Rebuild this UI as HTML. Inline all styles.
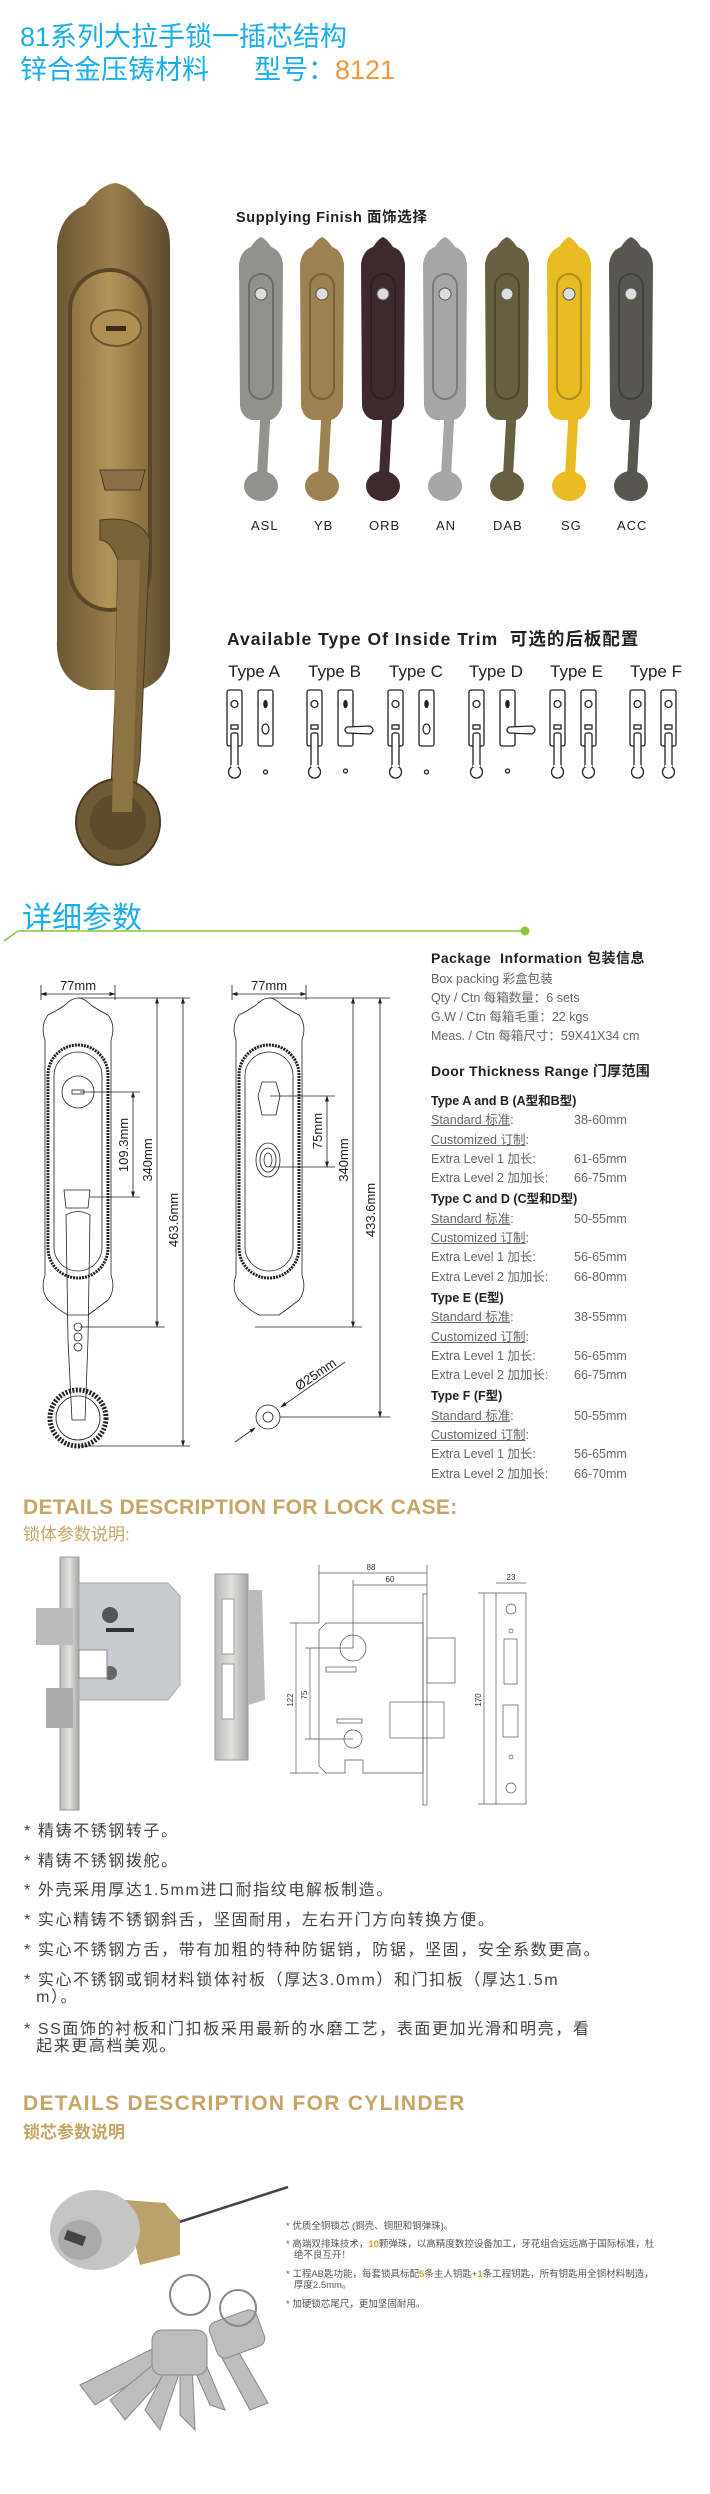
<!DOCTYPE html>
<html><head><meta charset="utf-8">
<style>
*{margin:0;padding:0;box-sizing:border-box}
body{width:710px;height:2494px;background:#fff;position:relative;overflow:hidden;font-family:"Liberation Sans","Noto Sans CJK SC",sans-serif}
.a{position:absolute;white-space:nowrap}
.t1{color:#1aaee8;font-size:27px;line-height:30px;left:20px}
.pk{left:431px;font-size:12.5px;color:#666;line-height:16px}
.bd{font-weight:bold;color:#222}
.u{text-decoration:underline}
.gold{color:#c7a565;font-weight:bold;font-size:21px;left:23px;letter-spacing:0.3px}
.goldc{color:#c7a565;font-size:17px;left:23px}
.bl{left:24px;font-size:16px;color:#444;letter-spacing:1.6px;line-height:17px}
.cy{left:286px;font-size:9.5px;color:#555;line-height:11px}
</style></head><body>

<div class="a t1" style="top:22px">81系列大拉手锁一插芯结构</div>
<div class="a t1" style="top:55px">锌合金压铸材料<span style="margin-left:45px">型号：</span><span style="color:#f7963b">8121</span></div>

<svg class="a" style="left:0;top:170px" width="230" height="710" viewBox="0 170 230 710">
<defs>
<linearGradient id="br" x1="0" x2="1"><stop offset="0" stop-color="#6b5634"/><stop offset=".5" stop-color="#9a7f4c"/><stop offset="1" stop-color="#5d4a2e"/></linearGradient>
<linearGradient id="br2" x1="0" x2="1"><stop offset="0" stop-color="#8d7242"/><stop offset=".5" stop-color="#b3945a"/><stop offset="1" stop-color="#866a3c"/></linearGradient>
</defs>
<path d="M57 245 Q60 215 85 205 Q100 185 115 183 Q130 185 145 205 Q170 215 170 245 L170 640 Q172 680 140 690 L90 690 Q55 680 57 640 Z" fill="url(#br)"/>
<rect x="70" y="270" width="80" height="340" rx="40" fill="url(#br2)" stroke="#5a4628" stroke-width="4"/>
<ellipse cx="116" cy="328" rx="25" ry="18" fill="#b08f55" stroke="#6a5330" stroke-width="2"/>
<rect x="106" y="326" width="20" height="5" fill="#3a2c18"/>
<path d="M100 470 L145 470 L140 490 L105 490Z" fill="#8a7048" stroke="#4a3a22"/>
<path d="M100 520 Q140 515 150 540 L140 760 L132 812 L110 812 L115 700 L118 560 Q110 540 100 540Z" fill="#7a6238" stroke="#4a3a22"/>
<ellipse cx="118" cy="822" rx="42" ry="43" fill="#6f5a36" stroke="#4a3a22" stroke-width="2"/>
<ellipse cx="118" cy="822" rx="28" ry="28" fill="#5e4b2d"/>
<path d="M118 560 L140 560 L132 812 L112 812Z" fill="#8e7344"/>
</svg>

<div class="a bd" style="left:236px;top:206px;font-size:14.5px;letter-spacing:0.6px">Supplying Finish 面饰选择</div>

<svg class="a" style="left:230px;top:236px" width="440" height="280">
<defs>
<g id="h">
<path d="M9 28 Q11 14 21 11 Q26 3 31 1 Q36 3 41 11 Q51 14 53 28 L52 170 Q48 182 40 184 L22 184 Q12 182 10 170 Z"/>
<path d="M30 130 Q42 132 42 150 L37 240 L27 240 L32 150 Z"/>
<ellipse cx="31" cy="250" rx="17" ry="15"/>
</g>
</defs>
<g fill="#92928c"><use href="#h" x="0"/></g>
<g fill="#9c8250"><use href="#h" x="61"/></g>
<g fill="#3e2a2e"><use href="#h" x="122"/></g>
<g fill="#a6a6a6"><use href="#h" x="184"/></g>
<g fill="#666040"><use href="#h" x="246"/></g>
<g fill="#eabc24"><use href="#h" x="308"/></g>
<g fill="#575750"><use href="#h" x="370"/></g>
<g fill="none" stroke="rgba(0,0,0,.25)" stroke-width="2">
<rect x="19" y="38" width="24" height="125" rx="12"/><rect x="80" y="38" width="24" height="125" rx="12"/><rect x="141" y="38" width="24" height="125" rx="12"/><rect x="203" y="38" width="24" height="125" rx="12"/><rect x="265" y="38" width="24" height="125" rx="12"/><rect x="327" y="38" width="24" height="125" rx="12"/><rect x="389" y="38" width="24" height="125" rx="12"/>
</g>
<g fill="#ddd" stroke="#555"><circle cx="31" cy="58" r="6"/><circle cx="92" cy="58" r="6"/><circle cx="153" cy="58" r="6"/><circle cx="215" cy="58" r="6"/><circle cx="277" cy="58" r="6"/><circle cx="339" cy="58" r="6"/><circle cx="401" cy="58" r="6"/></g>
</svg>
<div class="a" style="top:518px;left:0;width:710px;font-size:13px;color:#222;letter-spacing:1px">
<span class="a" style="left:251px">ASL</span><span class="a" style="left:314px">YB</span><span class="a" style="left:369px">ORB</span><span class="a" style="left:436px">AN</span><span class="a" style="left:493px">DAB</span><span class="a" style="left:561px">SG</span><span class="a" style="left:617px">ACC</span></div>

<div class="a bd" style="left:227px;top:626px;font-size:17.5px;letter-spacing:1px">Available Type Of Inside Trim&nbsp; 可选的后板配置</div>
<div class="a" style="top:662px;left:0;font-size:17px;color:#222">
<span class="a" style="left:228px">Type A</span><span class="a" style="left:308px">Type B</span><span class="a" style="left:389px">Type C</span><span class="a" style="left:469px">Type D</span><span class="a" style="left:550px">Type E</span><span class="a" style="left:630px">Type F</span></div>

<svg class="a" style="left:0;top:0" width="710" height="800">
<defs>
<g id="H" fill="#fff" stroke="#222" stroke-width="1.3">
<rect x="0" y="690" width="15" height="56" rx="2"/>
<circle cx="7.5" cy="704" r="3.5"/><rect x="4" y="725" width="7" height="4"/>
<rect x="4" y="733" width="7" height="34" rx="2"/>
<circle cx="7.5" cy="772" r="6"/>
<line x1="4" y1="766" x2="11" y2="766" stroke="#fff" stroke-width="2"/>
</g>
<g id="S" fill="#fff" stroke="#222" stroke-width="1.3">
<rect x="0" y="690" width="15" height="56" rx="2"/>
<ellipse cx="7.5" cy="704" rx="1.6" ry="3.5" fill="#222"/>
<circle cx="7.5" cy="772" r="2"/>
</g>
<g id="L" fill="#fff" stroke="#222" stroke-width="1.3">
<rect x="0" y="690" width="15" height="56" rx="2"/>
<ellipse cx="7.5" cy="704" rx="1.6" ry="3.5" fill="#222"/>
<path d="M9 727 L32 726 Q38 730 32 734 L9 733 Q5 730 9 727Z"/>
<circle cx="7.5" cy="771" r="2"/>
</g>
</defs>
<use href="#H" x="227"/><use href="#S" x="258"/><ellipse cx="265.5" cy="729" rx="3.5" ry="5" fill="none" stroke="#222" stroke-width="1.2"/>
<use href="#H" x="307"/><use href="#L" x="338"/>
<use href="#H" x="388"/><use href="#S" x="419"/><ellipse cx="426.5" cy="729" rx="3.5" ry="5" fill="none" stroke="#222" stroke-width="1.2"/>
<use href="#H" x="469"/><use href="#L" x="500"/>
<use href="#H" x="550"/><use href="#H" x="581"/>
<use href="#H" x="630"/><use href="#H" x="661"/>
</svg>

<div class="a" style="left:22px;top:893px;font-size:30px;color:#1aaee8">详细参数</div>
<svg class="a" style="left:0;top:925px" width="540" height="20"><path d="M4 16 L18 6 L525 6" stroke="#8cc63f" stroke-width="1.6" fill="none"/><circle cx="525" cy="6" r="4.5" fill="#8cc63f"/></svg>

<div class="a bd" style="left:431px;top:948px;font-size:14px;letter-spacing:0.5px">Package&nbsp; Information 包装信息</div>
<div class="a pk" style="top:971px">Box packing 彩盒包装</div>
<div class="a pk" style="top:990px">Qty / Ctn 每箱数量：6 sets</div>
<div class="a pk" style="top:1009px">G.W / Ctn 每箱毛重：22 kgs</div>
<div class="a pk" style="top:1028px">Meas. / Ctn 每箱尺寸：59X41X34 cm</div>
<div class="a bd" style="left:431px;top:1061px;font-size:14px;letter-spacing:0.3px">Door Thickness Range 门厚范围</div>

<div class="a" style="left:431px;top:1092px;font-size:12.5px;color:#666;line-height:19.3px">
<div class="bd" style="font-size:12.5px">Type A and B (A型和B型)</div>
<div><span class="u">Standard 标准</span>:</div><div><span class="u">Customized 订制</span>:</div><div>Extra Level 1 加长:</div><div>Extra Level 2 加加长:</div>
<div class="bd" style="margin-top:2px">Type C and D (C型和D型)</div>
<div><span class="u">Standard 标准</span>:</div><div><span class="u">Customized 订制</span>:</div><div>Extra Level 1 加长:</div><div>Extra Level 2 加加长:</div>
<div class="bd" style="margin-top:2px">Type E (E型)</div>
<div><span class="u">Standard 标准</span>:</div><div><span class="u">Customized 订制</span>:</div><div>Extra Level 1 加长:</div><div>Extra Level 2 加加长:</div>
<div class="bd" style="margin-top:2px">Type F (F型)</div>
<div><span class="u">Standard 标准</span>:</div><div><span class="u">Customized 订制</span>:</div><div>Extra Level 1 加长:</div><div>Extra Level 2 加加长:</div>
</div>
<div class="a" style="left:574px;top:1092px;font-size:12.5px;color:#666;line-height:19.3px">
<div>&nbsp;</div><div>38-60mm</div><div>&nbsp;</div><div>61-65mm</div><div>66-75mm</div>
<div style="margin-top:2px">&nbsp;</div><div>50-55mm</div><div>&nbsp;</div><div>56-65mm</div><div>66-80mm</div>
<div style="margin-top:2px">&nbsp;</div><div>38-55mm</div><div>&nbsp;</div><div>56-65mm</div><div>66-75mm</div>
<div style="margin-top:2px">&nbsp;</div><div>50-55mm</div><div>&nbsp;</div><div>56-65mm</div><div>66-70mm</div>
</div>

<svg class="a" style="left:0;top:970px" width="420" height="490" viewBox="0 970 420 490" font-family="Liberation Sans" font-size="13" fill="#222">
<defs><marker id="ar" markerWidth="8" markerHeight="8" refX="7" refY="4" orient="auto-start-reverse"><path d="M0 1.5 L8 4 L0 6.5Z" fill="#222"/></marker></defs>
<g stroke="#222" stroke-width="0.8" fill="none">
<path d="M45 1040 Q40 1025 48 1015 Q58 1010 65 1005 Q72 998 78 998 Q84 998 91 1005 Q98 1010 108 1015 Q116 1025 111 1040 L111 1275 Q116 1290 108 1300 Q95 1310 88 1315 L68 1315 Q58 1310 48 1300 Q40 1290 45 1275Z"/>
<rect x="48" y="1045" width="60" height="233" rx="30" stroke-width="3" stroke-dasharray="2 1"/>
<rect x="54" y="1052" width="48" height="219" rx="24"/>
<circle cx="78" cy="1092" r="16"/><rect x="72" y="1090" width="12" height="4"/>
<path d="M64 1190 L90 1190 L88 1208 L66 1208Z"/>
<path d="M66 1215 Q78 1208 90 1215 L88 1340 L85 1420 L72 1420 L68 1340Z"/>
<circle cx="78" cy="1418" r="28" stroke-width="5" stroke-dasharray="2 1.5"/>
<circle cx="78" cy="1418" r="22"/>
<circle cx="78" cy="1327" r="4"/><circle cx="78" cy="1337" r="4"/><circle cx="78" cy="1347" r="4"/>
<line x1="41" y1="985" x2="41" y2="1000"/><line x1="115" y1="985" x2="115" y2="1000"/>
<line x1="41" y1="994" x2="115" y2="994" marker-start="url(#ar)" marker-end="url(#ar)"/>
<line x1="78" y1="998" x2="190" y2="998"/><line x1="80" y1="1092" x2="140" y2="1092"/><line x1="90" y1="1197" x2="140" y2="1197"/>
<line x1="80" y1="1327" x2="165" y2="1327"/><line x1="80" y1="1446" x2="190" y2="1446"/>
<line x1="133" y1="1092" x2="133" y2="1197" marker-start="url(#ar)" marker-end="url(#ar)"/>
<line x1="157" y1="998" x2="157" y2="1327" marker-start="url(#ar)" marker-end="url(#ar)"/>
<line x1="183" y1="998" x2="183" y2="1446" marker-start="url(#ar)" marker-end="url(#ar)"/>
<path d="M236 1040 Q231 1025 239 1015 Q249 1010 256 1005 Q263 998 269 998 Q275 998 282 1005 Q289 1010 299 1015 Q307 1025 302 1040 L302 1275 Q307 1290 299 1300 Q286 1310 279 1315 L259 1315 Q249 1310 239 1300 Q231 1290 236 1275Z"/>
<rect x="239" y="1045" width="60" height="233" rx="30" stroke-width="3" stroke-dasharray="2 1"/>
<rect x="245" y="1052" width="48" height="219" rx="24"/>
<path d="M262 1082 L276 1082 L280 1096 L276 1115 L262 1115 L258 1096Z"/>
<ellipse cx="268" cy="1160" rx="12" ry="17"/><ellipse cx="268" cy="1160" rx="8" ry="12"/><ellipse cx="268" cy="1160" rx="4" ry="7"/>
<line x1="232" y1="985" x2="232" y2="1000"/><line x1="306" y1="985" x2="306" y2="1000"/>
<line x1="232" y1="994" x2="306" y2="994" marker-start="url(#ar)" marker-end="url(#ar)"/>
<line x1="269" y1="998" x2="390" y2="998"/><line x1="270" y1="1096" x2="335" y2="1096"/><line x1="270" y1="1167" x2="335" y2="1167"/>
<line x1="255" y1="1327" x2="362" y2="1327"/><line x1="280" y1="1417" x2="390" y2="1417"/>
<line x1="327" y1="1096" x2="327" y2="1167" marker-start="url(#ar)" marker-end="url(#ar)"/>
<line x1="353" y1="998" x2="353" y2="1327" marker-start="url(#ar)" marker-end="url(#ar)"/>
<line x1="380" y1="998" x2="380" y2="1417" marker-start="url(#ar)" marker-end="url(#ar)"/>
<circle cx="268" cy="1417" r="12"/><circle cx="268" cy="1417" r="5"/>
<line x1="235" y1="1442" x2="255" y2="1428" marker-end="url(#ar)"/>
<line x1="345" y1="1362" x2="281" y2="1407" marker-end="url(#ar)"/>
</g>
<text x="78" y="990" text-anchor="middle">77mm</text>
<text x="269" y="990" text-anchor="middle">77mm</text>
<text transform="translate(128 1145) rotate(-90)" text-anchor="middle">109.3mm</text>
<text transform="translate(152 1160) rotate(-90)" text-anchor="middle">340mm</text>
<text transform="translate(178 1220) rotate(-90)" text-anchor="middle">463.6mm</text>
<text transform="translate(322 1131) rotate(-90)" text-anchor="middle">75mm</text>
<text transform="translate(348 1160) rotate(-90)" text-anchor="middle">340mm</text>
<text transform="translate(375 1210) rotate(-90)" text-anchor="middle">433.6mm</text>
<text transform="translate(318 1378) rotate(-34)" text-anchor="middle">Ø25mm</text>
</svg>

<div class="a gold" style="top:1496px">DETAILS DESCRIPTION FOR LOCK CASE:</div>
<div class="a goldc" style="top:1520px">锁体参数说明:</div>

<svg class="a" style="left:0;top:1550px" width="540" height="270" viewBox="0 1550 540 270">
<defs><linearGradient id="ss" x1="0" x2="1"><stop offset="0" stop-color="#b8b8b6"/><stop offset=".5" stop-color="#e2e2e0"/><stop offset="1" stop-color="#a5a5a3"/></linearGradient></defs>
<rect x="60" y="1557" width="19" height="253" fill="url(#ss)" stroke="#999"/>
<path d="M79 1583 L168 1583 L180 1596 L180 1685 L168 1700 L79 1700Z" fill="#c7ccd3" stroke="#aaa"/>
<rect x="36" y="1608" width="37" height="37" fill="#bbb"/>
<rect x="46" y="1688" width="27" height="40" fill="#aaa"/>
<circle cx="110" cy="1615" r="8" fill="#555"/><rect x="106" y="1628" width="28" height="4" fill="#333"/>
<circle cx="110" cy="1673" r="7" fill="#666"/>
<rect x="79" y="1650" width="28" height="28" fill="#fff" stroke="#888"/>
<rect x="215" y="1574" width="33" height="186" fill="url(#ss)" stroke="#999"/>
<path d="M248 1590 L262 1590 L265 1700 L248 1705Z" fill="#bbb"/>
<rect x="222" y="1599" width="12" height="55" fill="#fff" stroke="#999"/><rect x="222" y="1664" width="12" height="55" fill="#fff" stroke="#999"/>
<g stroke="#555" stroke-width="0.7" fill="none">
<path d="M319 1630 L326 1623 L423 1623 L423 1773 L363 1773 L363 1760 L345 1760 L345 1773 L326 1773 L319 1766Z"/>
<rect x="423" y="1594" width="4" height="211"/>
<rect x="427" y="1638" width="28" height="45"/><rect x="390" y="1702" width="54" height="36"/>
<circle cx="353" cy="1648" r="13"/><circle cx="353" cy="1739" r="9"/>
<rect x="326" y="1667" width="30" height="5"/><rect x="337" y="1719" width="25" height="4"/>
<line x1="319" y1="1565" x2="319" y2="1623"/><line x1="427" y1="1565" x2="427" y2="1594"/>
<line x1="319" y1="1573" x2="427" y2="1573"/><line x1="353" y1="1585" x2="427" y2="1585"/><line x1="353" y1="1580" x2="353" y2="1648"/>
<line x1="290" y1="1623" x2="319" y2="1623"/><line x1="290" y1="1773" x2="319" y2="1773"/>
<line x1="296" y1="1623" x2="296" y2="1773"/><line x1="305" y1="1648" x2="353" y2="1648"/><line x1="305" y1="1739" x2="353" y2="1739"/><line x1="310" y1="1648" x2="310" y2="1739"/>
<rect x="496" y="1593" width="30" height="211"/>
<rect x="504" y="1639" width="13" height="45"/><rect x="503" y="1705" width="15" height="32"/>
<circle cx="511" cy="1609" r="5"/><circle cx="511" cy="1788" r="5"/><circle cx="511" cy="1631" r="2"/><circle cx="511" cy="1757" r="2"/>
<line x1="478" y1="1593" x2="496" y2="1593"/><line x1="478" y1="1804" x2="496" y2="1804"/><line x1="484" y1="1593" x2="484" y2="1804"/>
<line x1="496" y1="1583" x2="526" y2="1583"/>
</g>
<g font-family="Liberation Sans" font-size="8" fill="#333">
<text x="371" y="1570" text-anchor="middle">88</text><text x="390" y="1582" text-anchor="middle">60</text>
<text x="511" y="1580" text-anchor="middle">23</text>
<text transform="translate(293 1700) rotate(-90)" text-anchor="middle">122</text>
<text transform="translate(307 1695) rotate(-90)" text-anchor="middle">75</text>
<text transform="translate(481 1700) rotate(-90)" text-anchor="middle">170</text>
</g>
</svg>

<div class="a bl" style="top:1823px">* 精铸不锈钢转子。</div>
<div class="a bl" style="top:1853px">* 精铸不锈钢拨舵。</div>
<div class="a bl" style="top:1882px">* 外壳采用厚达1.5mm进口耐指纹电解板制造。</div>
<div class="a bl" style="top:1912px">* 实心精铸不锈钢斜舌，坚固耐用，左右开门方向转换方便。</div>
<div class="a bl" style="top:1942px">* 实心不锈钢方舌，带有加粗的特种防锯销，防锯，坚固，安全系数更高。</div>
<div class="a bl" style="top:1972px">* 实心不锈钢或铜材料锁体衬板（厚达3.0mm）和门扣板（厚达1.5m<br>&nbsp;&nbsp;m）。</div>
<div class="a bl" style="top:2021px">* SS面饰的衬板和门扣板采用最新的水磨工艺，表面更加光滑和明亮，看<br>&nbsp;&nbsp;起来更高档美观。</div>

<div class="a gold" style="top:2092px;letter-spacing:1.3px">DETAILS DESCRIPTION FOR CYLINDER</div>
<div class="a goldc" style="top:2118px;font-weight:bold">锁芯参数说明</div>

<svg class="a" style="left:40px;top:2165px" width="260" height="280">
<line x1="130" y1="60" x2="248" y2="22" stroke="#444" stroke-width="2.5"/>
<path d="M85 35 L125 38 L140 55 L140 90 L100 100Z" fill="#b9a36a"/>
<ellipse cx="55" cy="65" rx="45" ry="40" fill="#c5c5c5"/>
<ellipse cx="40" cy="75" rx="22" ry="20" fill="#aaa"/>
<rect x="25" y="68" width="20" height="10" fill="#444" transform="rotate(20 35 73)"/>
<g fill="#bdbdbd" stroke="#888">
<path d="M40 220 L120 180 L130 195 L55 240Z"/>
<path d="M70 235 L125 190 L135 200 L85 255Z"/>
<path d="M105 245 L130 195 L142 200 L120 265Z"/>
<path d="M140 250 L140 200 L152 200 L155 265Z"/>
<path d="M170 240 L150 195 L162 190 L185 245Z"/>
<rect x="112" y="165" width="55" height="45" rx="10"/>
<path d="M210 245 L175 180 L190 172 L228 238Z"/>
<rect x="172" y="150" width="50" height="38" rx="8" transform="rotate(-20 197 169)"/>
</g>
<circle cx="150" cy="130" r="20" fill="none" stroke="#888" stroke-width="2"/>
<circle cx="198" cy="143" r="18" fill="none" stroke="#888" stroke-width="2"/>
</svg>

<div class="a cy" style="top:2221px">* 优质全铜锁芯 (铜壳、铜胆和铜弹珠)。</div>
<div class="a cy" style="top:2239px">* 高端双排珠技术，<b style="color:#e0a020">10</b>颗弹珠，以高精度数控设备加工，牙花组合远远高于国际标准，杜<br>&nbsp;&nbsp;&nbsp;绝不良互开！</div>
<div class="a cy" style="top:2269px">* 工程AB匙功能，每套锁具标配<b style="color:#e0a020">5</b>条主人钥匙+<b style="color:#e0a020">1</b>条工程钥匙，所有钥匙用全铜材料制造，<br>&nbsp;&nbsp;&nbsp;厚度2.5mm。</div>
<div class="a cy" style="top:2299px">* 加硬锁芯尾尺，更加坚固耐用。</div>
</body></html>
